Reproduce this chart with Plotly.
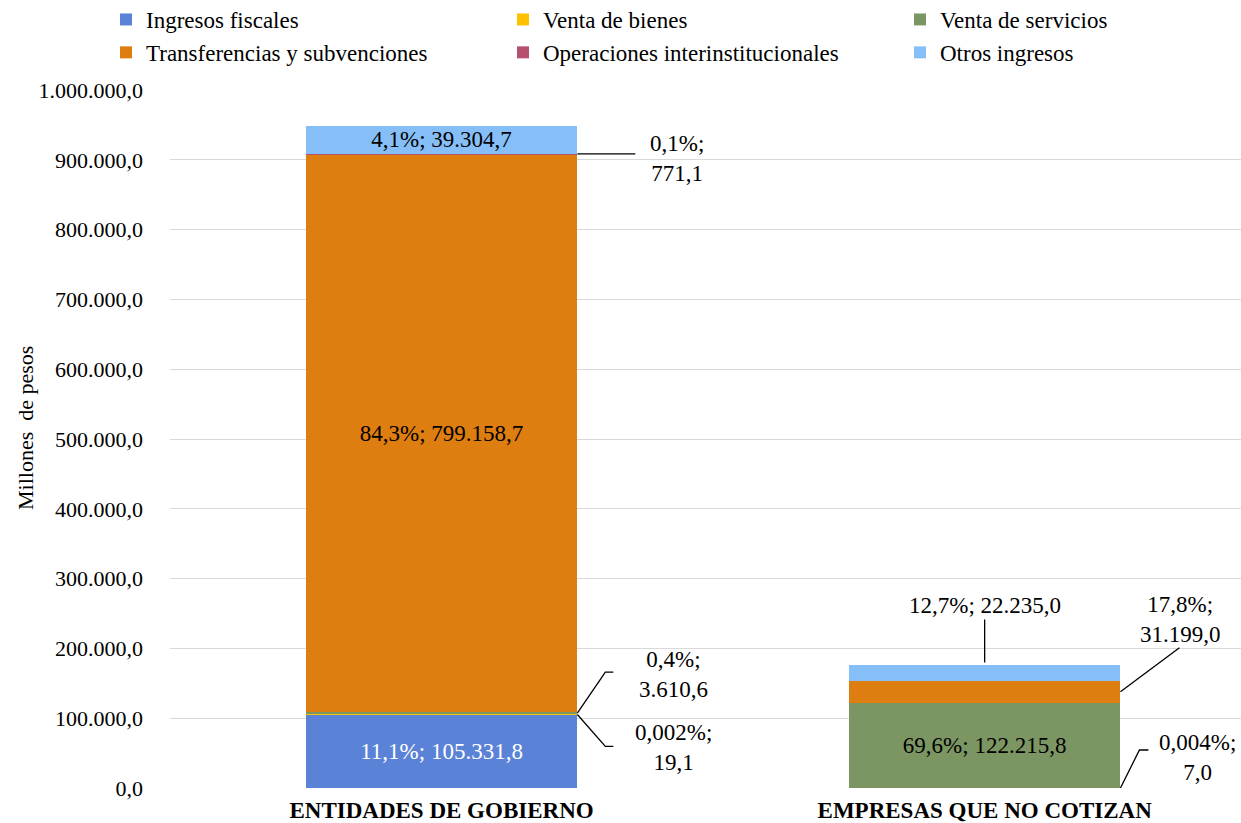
import plotly.graph_objects as go

categories = ["ENTIDADES DE GOBIERNO", "EMPRESAS QUE NO COTIZAN"]
series_names = ["Ingresos fiscales", "Venta de bienes", "Venta de servicios",
                "Transferencias y subvenciones", "Operaciones interinstitucionales", "Otros ingresos"]
ingresos_fiscales = [105331.8, 0.0]
venta_bienes = [19.1, 7.0]
venta_servicios = [3610.6, 122215.8]
transferencias = [799158.7, 31199.0]
operaciones = [771.1, 0.0]
otros_ingresos = [39304.7, 22235.0]
pct_decimals = {  # decimals shown for the share label
    "Ingresos fiscales": [1, 1], "Venta de bienes": [3, 3], "Venta de servicios": [1, 1],
    "Transferencias y subvenciones": [1, 1], "Operaciones interinstitucionales": [1, 1],
    "Otros ingresos": [1, 1]}
tick_vals = [0, 100000, 200000, 300000, 400000, 500000, 600000, 700000, 800000, 900000, 1000000]
y_title = "Millones  de pesos"

series = [ingresos_fiscales, venta_bienes, venta_servicios, transferencias, operaciones, otros_ingresos]
colors = ["#5A82D7", "#FFC000", "#7C9663", "#DE7D10", "#B5506E", "#86BFF8"]
FONT = "'Times New Roman', 'Liberation Serif', Times, serif"

totals = [sum(s[i] for s in series) for i in range(2)]


def es_num(v, d=1):
    s = f"{v:,.{d}f}"
    return s.replace(",", "X").replace(".", ",").replace("X", ".")


def label(name, i, sep="; "):
    v = series[series_names.index(name)][i]
    p = v / totals[i] * 100
    return f"{es_num(p, pct_decimals[name][i])}%{sep}{es_num(v)}"


# which labels go inside the bars
inside = {("Ingresos fiscales", 0): "white", ("Transferencias y subvenciones", 0): "black",
          ("Otros ingresos", 0): "black", ("Venta de servicios", 1): "black"}

xpos = [0, 1]
W = 0.5
fig = go.Figure()
for name, vals, col in zip(series_names, series, colors):
    texts, tcols = [], []
    for i in range(2):
        if (name, i) in inside:
            texts.append(label(name, i))
            tcols.append(inside[(name, i)])
        else:
            texts.append("")
            tcols.append("black")
    fig.add_trace(go.Bar(
        x=xpos, y=vals, name=name, marker=dict(color=col, line=dict(width=0)),
        width=W, text=texts, textposition="inside", insidetextanchor="middle",
        textangle=0, constraintext="none", cliponaxis=False,
        textfont=dict(family=FONT, size=23, color=tcols),
        hoverinfo="skip"))

# outside labels with leader lines (pixel offsets relative to the segment)
callouts = [
    # name, cat index, line path (px, y up), text dx, text dy
    ("Venta de servicios", 0, "M0,0 L28,41 L36,41", 96, 39),
    ("Venta de bienes", 0, "M0,0 L28,-32 L36,-32", 96, -33),
    ("Operaciones interinstitucionales", 0, "M0,0 L58,0", 100, -5),
    ("Transferencias y subvenciones", 1, "M0,0 L59,44", 60, 72),
    ("Venta de bienes", 1, "M0,0 L19,38 L28,38", 77, 31),
]
for name, i, path, dx, dy in callouts:
    k = series_names.index(name)
    base = sum(series[j][i] for j in range(k))
    ymid = base + series[k][i] / 2
    xa = xpos[i] + W / 2
    fig.add_shape(type="path", xref="x", yref="y", xsizemode="pixel", ysizemode="pixel",
                  xanchor=xa, yanchor=ymid, path=path, line=dict(color="black", width=1.3))
    fig.add_annotation(x=xa, y=ymid, xref="x", yref="y", text=label(name, i, ";<br>"),
                       showarrow=False, xshift=dx, yshift=dy, align="center",
                       font=dict(family=FONT, size=23, color="black"))

# top label of the second bar
top = totals[1]
fig.add_shape(type="path", xref="x", yref="y", xsizemode="pixel", ysizemode="pixel",
              xanchor=xpos[1], yanchor=top, path="M0,3 L0,46", line=dict(color="black", width=1.3))
fig.add_annotation(x=xpos[1], y=top, xref="x", yref="y", text=label("Otros ingresos", 1),
                   showarrow=False, yshift=60, font=dict(family=FONT, size=23, color="black"))

# y axis title
fig.add_annotation(x=(25 - 170) / 1071, y=(788 - 428) / 698, xref="paper", yref="paper",
                   text=y_title, textangle=-90, showarrow=False, xanchor="center", yanchor="middle",
                   font=dict(family=FONT, size=22, color="black"))

fig.update_layout(
    barmode="stack", width=1241, height=823,
    margin=dict(l=170, r=0, t=90, b=35, autoexpand=False),
    paper_bgcolor="white", plot_bgcolor="white",
    separators=",.",
    font=dict(family=FONT, size=22, color="black"),
    showlegend=True,
    legend=dict(orientation="h", x=(106 - 170) / 1071, xanchor="left",
                y=1 + (90 + 2) / 698, yanchor="top",
                entrywidth=352, traceorder="normal",
                font=dict(family=FONT, size=23, color="black"),
                bgcolor="rgba(0,0,0,0)", itemclick=False),
    xaxis=dict(range=[-0.5, 1.472], tickvals=xpos, ticktext=[f"<b>{c}</b>" for c in categories],
               showgrid=False, zeroline=False, showline=False, ticks="", automargin=False,
               tickfont=dict(family=FONT, size=23, color="black"), ticklabelstandoff=6),
    yaxis=dict(range=[0, 1000000], tickvals=tick_vals, tickformat=",.1f", automargin=False,
               showgrid=True, gridcolor="#D9D9D9", gridwidth=1, zeroline=False, showline=False,
               ticks="", ticklabelstandoff=26,
               tickfont=dict(family=FONT, size=22, color="black")),
)

fig.write_html("out.html", config={"displayModeBar": False},
               post_script="document.body.style.margin='0';")
